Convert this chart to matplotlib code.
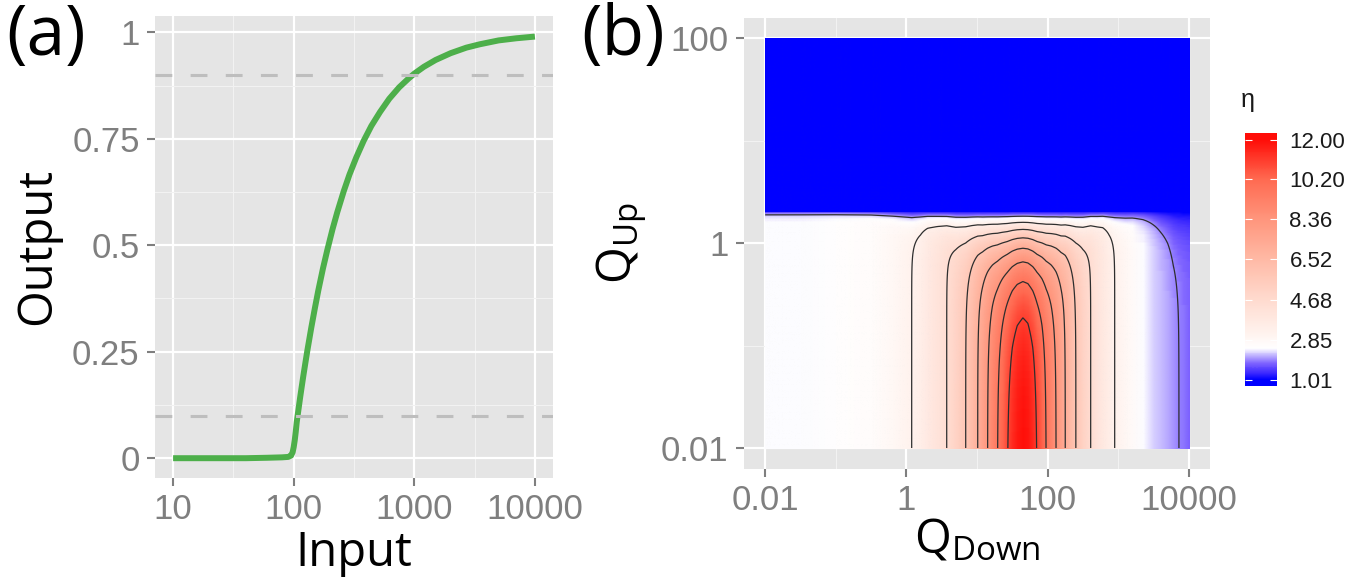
import numpy as np
import matplotlib
matplotlib.use("Agg")
import matplotlib.pyplot as plt
from matplotlib.colors import LinearSegmentedColormap, Normalize
from matplotlib.image import NonUniformImage
from matplotlib.patches import Rectangle
from matplotlib.ticker import FixedLocator, FixedFormatter, NullFormatter

plt.rcParams['font.family'] = ['Liberation Sans', 'DejaVu Sans']
plt.rcParams['mathtext.fontset'] = 'custom'
plt.rcParams['mathtext.rm'] = 'Open Sans'
plt.rcParams['mathtext.it'] = 'Open Sans:italic'

# ---- panel (a): input/output response ----
input_vals = [10, 20, 40, 60, 80, 90, 95, 98, 100, 102, 104, 106, 108, 110, 113,
              116, 120, 125, 130, 140, 150, 160, 175, 190, 210, 230, 260, 290,
              330, 380, 440, 520, 620, 750, 900, 1000, 1200, 1500, 2000, 2700,
              3500, 5000, 7000, 10000]
output_vals = [0.0, 0.0, 0.0, 0.001, 0.002, 0.003, 0.006, 0.014, 0.026, 0.042,
               0.062, 0.085, 0.102, 0.118, 0.142, 0.164, 0.192, 0.224, 0.254,
               0.307, 0.353, 0.394, 0.446, 0.489, 0.538, 0.578, 0.627, 0.666,
               0.706, 0.745, 0.780, 0.813, 0.844, 0.871, 0.892, 0.903, 0.919,
               0.935, 0.951, 0.964, 0.972, 0.981, 0.986, 0.990]
thresholds = [0.1, 0.9]
a_xticks = [10, 100, 1000, 10000]
a_xlabels = ['10', '100', '1000', '10000']
a_yticks = [0, 0.25, 0.5, 0.75, 1]
a_ylabels = ['0', '0.25', '0.5', '0.75', '1']

# ---- panel (b): eta over log10(Q_Down) x log10(Q_Up) ----
# eta along the bottom row (Q_Up -> 0.01), read at log10(Q_Down) positions
qdown_log = [-2.0, -1.5, -1.0, -0.5, -0.2, 0.075, 0.2, 0.3, 0.45, 0.571, 0.7,
             0.84, 0.93, 1.01, 1.08, 1.15, 1.22, 1.29, 1.36, 1.43, 1.50, 1.57,
             1.65, 1.72, 1.79, 1.85, 1.92, 1.98, 2.05, 2.12, 2.19, 2.25, 2.32,
             2.40, 2.50, 2.61, 2.70, 2.78, 2.87, 2.95, 3.10, 3.20, 3.35, 3.50,
             3.60, 3.70, 3.78, 3.85, 3.92, 4.00]
eta_floor = [2.45, 2.46, 2.50, 2.62, 2.85, 3.20, 3.45, 3.75, 4.15, 4.50, 5.10,
             5.80, 6.45, 7.10, 7.75, 8.40, 9.05, 9.70, 10.35, 11.00, 11.50, 11.85,
             12.03, 11.90, 11.50, 11.00, 10.35, 9.70, 9.05, 8.40, 7.70, 7.10, 6.45,
             5.80, 5.10, 4.50, 4.10, 3.80, 3.45, 3.20, 2.90, 2.70, 2.45, 2.25,
             2.14, 2.05, 1.97, 1.91, 1.84, 1.78]
# how sharply each column falls off as Q_Up approaches the boundary
decay_exp = [18, 18, 18, 14, 8, 4.5, 4.5, 4.5, 3.8, 3.3, 2.3,
             1.9, 1.75, 1.6, 1.4, 1.3, 1.2, 1.1, 1.05, 1.0, 1.0, 1.0,
             1.0, 1.0, 1.0, 1.0, 1.05, 1.1, 1.2, 1.3, 1.4, 1.6, 1.75,
             1.9, 2.3, 3.3, 3.8, 4.5, 4.5, 4.5, 5, 6, 6, 4.5,
             3.5, 2.8, 2.2, 2.0, 2.0, 2.0]
q_up_boundary = 1.94
eta_min, eta_max = 1.01, 12.03
contour_levels = [1.9, 3.2, 4.5, 5.8, 7.1, 8.4, 9.7, 11.0]
b_xticks = [-2, 0, 2, 4]
b_xlabels = ['0.01', '1', '100', '10000']
b_yticks = [-2, 0, 2]
b_ylabels = ['0.01', '1', '100']
cbar_ticks = [1.01, 2.85, 4.68, 6.52, 8.36, 10.20, 12.00]
cbar_labels = ['1.01', '2.85', '4.68', '6.52', '8.36', '10.20', '12.00']

color_nodes = [1.01, 1.30, 1.75, 2.10, 2.45, 3.2, 4.68, 6.52, 8.36, 10.2, 12.03]
color_list = ['#0000ff', '#3f2bff', '#7d62ff', '#c2b5ff', '#ffffff', '#fff2ed',
              '#ffdbcf', '#ffbaa6', '#ff967d', '#ff6b52', '#ff0d08']

BG = '#E5E5E5'
GREY_TXT = '#7F7F7F'


def style_panel(ax, xt, xl, yt, yl, xminor, yminor):
    ax.set_facecolor(BG)
    for s in ax.spines.values():
        s.set_visible(False)
    ax.xaxis.set_major_locator(FixedLocator(xt))
    ax.xaxis.set_major_formatter(FixedFormatter(xl))
    ax.yaxis.set_major_locator(FixedLocator(yt))
    ax.yaxis.set_major_formatter(FixedFormatter(yl))
    ax.xaxis.set_minor_locator(FixedLocator(xminor))
    ax.yaxis.set_minor_locator(FixedLocator(yminor))
    ax.xaxis.set_minor_formatter(NullFormatter())
    ax.yaxis.set_minor_formatter(NullFormatter())
    ax.tick_params(which='major', length=6, width=1.5, color=GREY_TXT,
                   labelcolor=GREY_TXT, labelsize=25, pad=5)
    ax.tick_params(which='minor', length=0)
    ax.set_axisbelow(True)
    ax.grid(which='major', color='white', lw=1.6)
    ax.grid(which='minor', color='#F2F2F2', lw=0.8)


fig = plt.figure(figsize=(13.68, 5.87), dpi=100)
W, H = 1368, 587

# ---------- panel (a) ----------
ax_a = fig.add_axes([155 / W, 1 - 478 / H, 398 / W, 462.5 / H])
ax_a.set_xscale('log')
ax_a.plot(input_vals, output_vals, color='#4DAF4A', lw=4.3,
          solid_capstyle='butt', solid_joinstyle='round', zorder=3)
for t in thresholds:
    ax_a.axhline(t, color='#BEBEBE', lw=2.2, dashes=(5.5, 6), zorder=4)
ax_a.set_xlim(10 ** 0.85, 10 ** 4.15)
ax_a.set_ylim(-0.0465, 1.0395)
style_panel(ax_a, a_xticks, a_xlabels, a_yticks, a_ylabels,
            [10 ** 1.5, 10 ** 2.5, 10 ** 3.5], [0.125, 0.375, 0.625, 0.875])
ax_a.set_xlabel('Input', fontsize=34, family='Open Sans', labelpad=2)
ax_a.set_ylabel('Output', fontsize=34, family='Open Sans', labelpad=8)

# ---------- panel (b) ----------
ax_b = fig.add_axes([744 / W, 1 - 468.5 / H, 466 / W, 450.5 / H])

xq = np.array(qdown_log)
P = np.array(eta_floor)
pexp = np.array(decay_exp)
yb = np.log10(q_up_boundary)
yq = np.concatenate([np.linspace(-2, yb, 200), [yb + 0.001, 2.0]])
qu = 10 ** yq
below = qu[:, None] <= q_up_boundary
eta = np.where(below,
               1 + (P[None, :] - 1) * (1 - (qu[:, None] / 2.0) ** pexp[None, :]),
               eta_min)

norm = Normalize(eta_min, eta_max)
pos = [(v - eta_min) / (eta_max - eta_min) for v in color_nodes]
cmap = LinearSegmentedColormap.from_list('eta', list(zip(pos, color_list)))

im = NonUniformImage(ax_b, interpolation='bilinear', cmap=cmap, norm=norm,
                     extent=(xq[0], xq[-1], yq[0], yq[-1]), zorder=1)
im.set_data(xq, yq, eta)
ax_b.add_image(im)
im.set_clip_path(Rectangle((xq[0], yq[0]), xq[-1] - xq[0], yq[-1] - yq[0],
                           transform=ax_b.transData))
ax_b.contour(xq, yq, eta, levels=contour_levels, colors='#2e2e2e',
             linewidths=0.9, zorder=2)
ax_b.set_xlim(-2.3, 4.3)
ax_b.set_ylim(-2.2, 2.2)
style_panel(ax_b, b_xticks, b_xlabels, b_yticks, b_ylabels,
            [-1, 1, 3], [-1, 1])
ax_b.set_xlabel(r'$\mathrm{Q}_{\mathrm{Down}}$', fontsize=34, labelpad=0)
ax_b.set_ylabel(r'$\mathrm{Q}_{\mathrm{Up}}$', fontsize=34, labelpad=8)

# ---------- colour bar ----------
cax = fig.add_axes([1245 / W, 1 - 386 / H, 32 / W, 253 / H])
nbin = 20
bins = np.linspace(eta_min, eta_max, nbin)
half = (eta_max - eta_min) / (nbin - 1) / 2
cax.imshow(bins.reshape(-1, 1), extent=[0, 1, eta_min - half, eta_max + half],
           origin='lower', aspect='auto', cmap=cmap, norm=norm,
           interpolation='bilinear')
cax.set_xlim(0, 1)
cax.set_ylim(eta_min - half, eta_max + half)
cax.set_xticks([])
cax.yaxis.set_major_locator(FixedLocator(cbar_ticks))
cax.yaxis.set_major_formatter(FixedFormatter(cbar_labels))
cax.tick_params(axis='y', direction='in', length=5, width=0.8, color='white',
                left=True, right=True, labelleft=False, labelright=True,
                labelsize=16, labelcolor='#1A1A1A', pad=9)
for s in cax.spines.values():
    s.set_visible(False)
fig.text(1241 / W, 1 - 100 / H, 'η', fontsize=18, ha='left', va='center',
         color='#1A1A1A')

# panel letters
fig.text(6 / W, 1 - 2 / H, '(a)', fontsize=50, family='Open Sans', va='top')
fig.text(581 / W, 1 - 2 / H, '(b)', fontsize=50, family='Open Sans', va='top')

fig.savefig('out.png', dpi=100)
